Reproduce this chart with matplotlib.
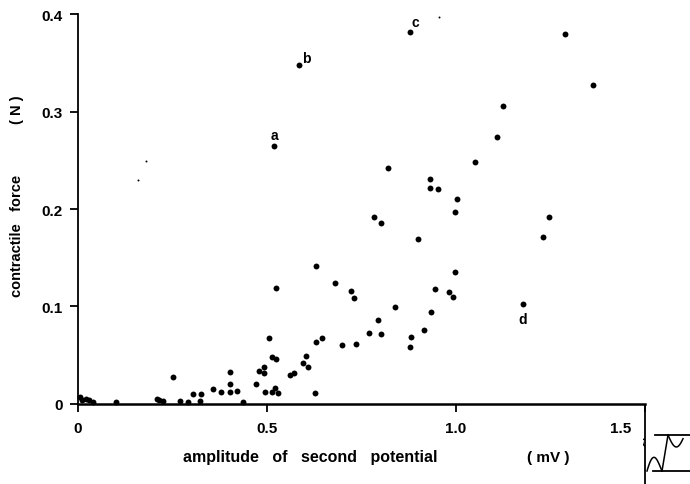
import numpy as np
import matplotlib
matplotlib.use('Agg')
import matplotlib.pyplot as plt
from matplotlib.transforms import ScaledTranslation

plt.rcParams['font.family'] = ['Liberation Sans', 'DejaVu Sans']
plt.rcParams['font.weight'] = 'bold'

# amplitude of second potential (mV) vs contractile force (N)
amp = [0.005, 0.01, 0.02, 0.03, 0.04, 0.10, 0.21, 0.215, 0.225, 0.27, 0.29, 0.323, 0.437,
       0.252, 0.303, 0.325, 0.356, 0.377, 0.402, 0.402, 0.402, 0.420,
       0.471, 0.479, 0.492, 0.492, 0.495, 0.504, 0.513, 0.513, 0.522, 0.523, 0.525, 0.529,
       0.560, 0.572, 0.596, 0.602, 0.609, 0.626, 0.630, 0.630, 0.645,
       0.681, 0.698, 0.722, 0.731, 0.735, 0.769, 0.783, 0.793, 0.802, 0.802,
       0.820, 0.839, 0.879, 0.880, 0.899, 0.914, 0.930, 0.930, 0.934, 0.944, 0.951,
       0.980, 0.991, 0.997, 0.997, 1.002, 1.050, 1.108, 1.125,
       1.229, 1.247, 1.287, 1.361]
force = [0.007, 0.004, 0.005, 0.004, 0.002, 0.002, 0.005, 0.004, 0.003, 0.003, 0.002, 0.003, 0.002,
         0.0273, 0.010, 0.0103, 0.0154, 0.0123, 0.0328, 0.0205, 0.012, 0.013,
         0.020, 0.0338, 0.0376, 0.032, 0.0123, 0.068, 0.048, 0.0123, 0.0167, 0.119, 0.0458, 0.011,
         0.0297, 0.0314, 0.042, 0.0496, 0.038, 0.0116, 0.1415, 0.064, 0.068,
         0.124, 0.060, 0.116, 0.109, 0.0615, 0.073, 0.1915, 0.086, 0.072, 0.186,
         0.2417, 0.099, 0.058, 0.069, 0.169, 0.076, 0.2308, 0.222, 0.0947, 0.118, 0.221,
         0.1145, 0.110, 0.135, 0.1965, 0.2106, 0.2485, 0.2735, 0.306,
         0.1716, 0.1915, 0.3795, 0.327]

# lettered responses
lab_amp = [0.519, 0.585, 0.877, 1.176]
lab_force = [0.2646, 0.348, 0.382, 0.103]
lab_text = ['a', 'b', 'c', 'd']
lab_offset = [(0, 8), (5, 5), (4, 7), (0, -11)]

# faint specks on the print
speck_amp = [0.16, 0.18, 0.956]
speck_force = [0.23, 0.249, 0.397]

fig = plt.figure(figsize=(6.9, 4.85), dpi=100)
ax = fig.add_axes([0.113, 0.165, 0.822, 0.804])

ax.scatter(amp, force, s=18, c='black', marker='o', linewidths=0, zorder=3, clip_on=False)
ax.scatter(lab_amp, lab_force, s=18, c='black', marker='o', linewidths=0, zorder=3)
ax.scatter(speck_amp, speck_force, s=2, c='black', linewidths=0)
for xv, yv, t, off in zip(lab_amp, lab_force, lab_text, lab_offset):
    ax.annotate(t, (xv, yv), xytext=off, textcoords='offset points',
                ha='center', va='center', fontsize=10, fontweight='bold')

ax.set_xlim(0, 1.5)
ax.set_ylim(0, 0.4)
ax.set_xticks([0, 0.5, 1.0, 1.5])
ax.set_xticklabels(['0', '0.5', '1.0', '1.5'])
ax.set_yticks([0, 0.1, 0.2, 0.3, 0.4])
ax.set_yticklabels(['0', '0.1', '0.2', '0.3', '0.4'])
ax.tick_params(axis='both', direction='out', length=6, width=1.3, labelsize=11, pad=5)
ax.tick_params(axis='x', pad=6)
for lbl in ax.get_xticklabels() + ax.get_yticklabels():
    lbl.set_fontweight('bold')
last = ax.get_xticklabels()[-1]
last.set_ha('right')
last.set_transform(last.get_transform() + ScaledTranslation(-10 / 72, 0, fig.dpi_scale_trans))

for side in ('top', 'right'):
    ax.spines[side].set_visible(False)
ax.spines['left'].set_linewidth(1.3)
ax.spines['bottom'].set_linewidth(1.8)

fig.text(310 / 690, 1 - 458 / 485, 'amplitude   of   second   potential', ha='center', va='center',
         fontsize=11.5, fontweight='bold')
fig.text(548 / 690, 1 - 458 / 485, '( mV )', ha='center', va='center', fontsize=11, fontweight='bold')
fig.text(17 / 690, 1 - 236 / 485, 'contractile   force', ha='center', va='center', rotation=90,
         fontsize=10.5, fontweight='bold')
fig.text(17 / 690, 1 - 110 / 485, '( N )', ha='center', va='center', rotation=90,
         fontsize=10.5, fontweight='bold')

# small sketch of the recorded waveform, bottom right corner
ins = fig.add_axes([643 / 690, 0, 47 / 690, 80 / 485])
ins.set_xlim(0, 47)
ins.set_ylim(0, 80)
ins.axis('off')
ins.plot([1.5, 1.5], [0, 80], color='black', lw=1.3)
ins.plot([1.5, -1, 0, 1.5], [45, 44, 40, 38], color='black', lw=1)
t = np.linspace(0, np.pi, 20)
ins.plot(4 + 15 * t / np.pi, 13 + 16 * np.sin(t) * (1 - 0.3 * t / np.pi), color='black', lw=1.1)
ins.plot([19, 25], [13, 49], color='black', lw=1.1)
ins.plot([12, 47], [49, 49], color='black', lw=1.3)
ins.plot([10, 47], [13, 13], color='black', lw=1.3)
s = np.linspace(0, 1, 15)
ins.plot(25 + 15 * s, 49 - 12 * np.sin(np.pi * s * 0.9), color='black', lw=1.1)

fig.savefig('out.png', dpi=100)
